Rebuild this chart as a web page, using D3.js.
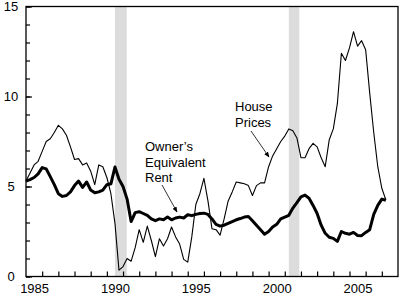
<!DOCTYPE html>
<html>
<head>
<meta charset="utf-8">
<script src="https://cdn.jsdelivr.net/npm/d3@7"></script>
<style>
  body { margin: 0; background: #fff; }
  svg { display: block; font-family: "Liberation Sans", Arial, sans-serif; }
</style>
</head>
<body>
<div id="main"></div>
<script>
// quarterly data, 1985Q1 .. 2007Q2 (percent change from a year earlier)
const startYear = 1985;
const housePrices = [
  5.3, 5.75, 6.2, 6.4, 6.95, 7.5, 7.65, 8.0, 8.4, 8.2, 7.85, 7.2, 6.5, 6.55, 6.2, 6.3,
  5.85, 5.1, 6.2, 6.1, 5.5, 4.6, 2.95, 0.35, 0.55, 1.0, 0.85, 1.6, 2.6, 1.9, 2.8, 2.0,
  1.1, 2.1, 1.7, 2.1, 2.75, 2.2, 1.8, 0.95, 0.8, 2.2, 4.0, 4.6, 5.45, 4.2, 2.65, 2.6,
  2.3, 3.2, 4.2, 4.7, 5.25, 5.2, 5.15, 5.05, 4.5, 5.05, 5.2, 5.2, 6.1, 6.7, 7.1, 7.5,
  7.8, 8.2, 8.1, 7.7, 6.6, 6.6, 7.1, 7.4, 7.2, 6.6, 6.1, 7.6, 8.2, 9.6, 12.4, 12.0,
  12.7, 13.6, 12.8, 13.1, 12.6, 10.2, 8.0, 6.1, 4.9, 4.25
];
const ownersRent = [
  5.3, 5.38, 5.5, 5.7, 6.05, 5.98, 5.55, 5.1, 4.6, 4.45, 4.5, 4.7, 5.05, 5.3, 4.95, 5.25,
  4.8, 4.65, 4.7, 4.8, 5.1, 5.15, 6.08, 5.4, 5.0, 4.3, 3.05, 3.55, 3.6, 3.5, 3.4, 3.2,
  3.1, 3.2, 3.15, 3.3, 3.15, 3.25, 3.3, 3.25, 3.43, 3.38, 3.45, 3.5, 3.52, 3.45, 3.2, 2.9,
  2.8, 2.85, 2.95, 3.05, 3.15, 3.22, 3.3, 3.33, 3.1, 2.85, 2.6, 2.35, 2.5, 2.75, 2.9, 3.2,
  3.3, 3.4, 3.8, 4.1, 4.42, 4.52, 4.35, 3.95, 3.5, 2.85, 2.4, 2.18, 2.12, 1.95, 2.5, 2.4,
  2.35, 2.45, 2.28, 2.27, 2.45, 2.6, 3.45, 3.95, 4.3, 4.24
];
// recession bands (decimal years)
const recessions = [[1990.5, 1991.23], [2001.25, 2001.9]];
const yMajorTicks = [0, 5, 10, 15];
const xLabelYears = [1985, 1990, 1995, 2000, 2005];

function main() {
  const width = 400, height = 302;
  const left = 26, right = 398, top = 6.5, bottom = 276.5;

  const svg = d3.select('#main').append('svg')
    .attr('width', width)
    .attr('height', height);

  const x = d3.scaleLinear().domain([1985, 2008]).range([left, right]);
  const y = d3.scaleLinear().domain([0, 15]).range([bottom, top]);

  // shaded recessions go under everything
  svg.append('g').selectAll('rect')
    .data(recessions)
    .enter()
    .append('rect')
    .attr('x', d => x(d[0]))
    .attr('width', d => x(d[1]) - x(d[0]))
    .attr('y', top)
    .attr('height', bottom - top)
    .attr('fill', '#dcdcdc');

  const line = d3.line()
    .x((d, i) => x(startYear + i / 4))
    .y(d => y(d));

  svg.append('path')
    .attr('d', line(housePrices))
    .attr('fill', 'none')
    .attr('stroke', '#000')
    .attr('stroke-width', 1.1)
    .attr('stroke-linejoin', 'round');

  svg.append('path')
    .attr('d', line(ownersRent))
    .attr('fill', 'none')
    .attr('stroke', '#000')
    .attr('stroke-width', 3)
    .attr('stroke-linejoin', 'round');

  // frame
  svg.append('rect')
    .attr('x', left)
    .attr('y', top)
    .attr('width', right - left)
    .attr('height', bottom - top)
    .attr('fill', 'none')
    .attr('stroke', '#000')
    .attr('stroke-width', 1.3);

  // y axis: minor ticks every unit, longer ticks at the labels
  const yMinor = svg.append('g')
    .attr('transform', `translate(${left},0)`)
    .call(d3.axisLeft(y).tickValues(d3.range(0, 16)).tickSize(-4).tickFormat(''));
  const yMajor = svg.append('g')
    .attr('transform', `translate(${left},0)`)
    .call(d3.axisLeft(y).tickValues(yMajorTicks).tickSize(-6).tickPadding(0));
  yMajor.selectAll('text')
    .attr('x', -15)
    .attr('text-anchor', 'middle')
    .attr('font-size', 13)
    .attr('font-family', '"Liberation Sans", Arial, sans-serif')
    .attr('fill', '#000');

  // x axis: year ticks inward, labels centred on the year
  const xTicks = svg.append('g')
    .attr('transform', `translate(0,${bottom})`)
    .call(d3.axisBottom(x).tickValues(d3.range(1986, 2008)).tickSize(-5).tickFormat(''));
  const xLabels = svg.append('g')
    .attr('transform', `translate(0,${bottom})`)
    .call(d3.axisBottom(x).tickValues(xLabelYears.map(v => v + 0.5))
      .tickSize(0).tickPadding(7).tickFormat(d => Math.floor(d)));
  xLabels.selectAll('text')
    .attr('font-size', 13)
    .attr('font-family', '"Liberation Sans", Arial, sans-serif')
    .attr('fill', '#000');

  [yMinor, yMajor, xTicks, xLabels].forEach(g => {
    g.select('.domain').remove();
    g.selectAll('line').attr('stroke', '#000').attr('stroke-width', 1.2);
  });

  // annotations
  svg.append('defs').append('marker')
    .attr('id', 'arrow')
    .attr('viewBox', '0 0 10 10')
    .attr('refX', 9).attr('refY', 5)
    .attr('markerWidth', 7).attr('markerHeight', 7)
    .attr('orient', 'auto')
    .append('path')
    .attr('d', 'M0,1 L10,5 L0,9 Z')
    .attr('fill', '#000');

  const notes = [
    { lines: ['House', 'Prices'], tx: 235, ty: 111, from: [251, 131], to: [269, 157] },
    { lines: ['Owner\u2019s', 'Equivalent', 'Rent'], tx: 145, ty: 151, from: [162, 185], to: [177, 212] }
  ];
  notes.forEach(n => {
    const t = svg.append('text')
      .attr('x', n.tx)
      .attr('y', n.ty)
      .attr('font-size', 13)
      .attr('fill', '#000');
    n.lines.forEach((s, i) => {
      t.append('tspan').attr('x', n.tx).attr('dy', i ? 15.5 : 0).text(s);
    });
    svg.append('line')
      .attr('x1', n.from[0]).attr('y1', n.from[1])
      .attr('x2', n.to[0]).attr('y2', n.to[1])
      .attr('stroke', '#000')
      .attr('stroke-width', 0.8)
      .attr('marker-end', 'url(#arrow)');
  });
}
document.addEventListener('DOMContentLoaded', main);
</script>
</body>
</html>
